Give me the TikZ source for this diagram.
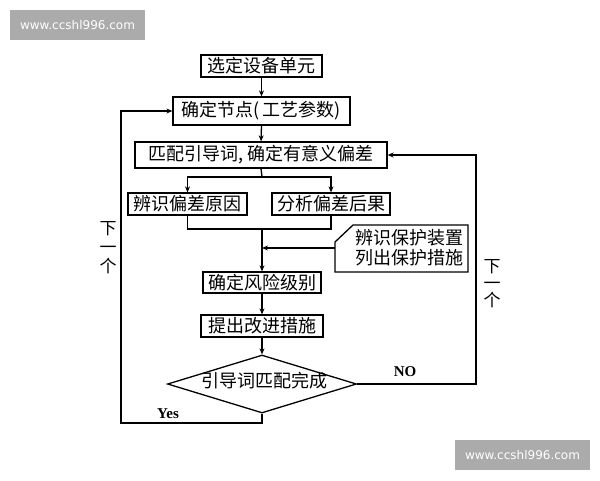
\documentclass[tikz,border=0pt]{standalone}
\usepackage{fontspec}
\newfontfamily\cjk{Noto Sans CJK SC}
\newfontfamily\lat{Liberation Serif}
\newfontfamily\wm{DejaVu Sans}
\usetikzlibrary{arrows.meta,shapes.geometric}
\tikzset{
  cjkfont/.style={font=\cjk\fontsize{18}{20}\selectfont},
  box/.style={draw, line width=1.3pt, inner sep=0pt, cjkfont},
  conn/.style={line width=1.3pt},
  arr/.style={conn, -{Stealth[length=6pt,width=5pt]}},
  lbl/.style={font=\lat\bfseries\fontsize{15}{17}\selectfont},
  vlab/.style={font=\cjk\fontsize{17}{18}\selectfont, align=center},
  wmark/.style={fill=black!33, text=white, inner sep=0pt, font=\wm\fontsize{12}{14}\selectfont}
}
\begin{document}
\begin{tikzpicture}[x=1pt,y=-1pt]
\useasboundingbox (0,0) rectangle (600,480);
% watermarks
\node[wmark, minimum width=135, minimum height=30] (w1) at (77.5,25) {www.ccshl996.com};
\node[wmark, minimum width=135, minimum height=30] (w2) at (522.5,455) {www.ccshl996.com};
% boxes
\node[box, minimum width=121, minimum height=22] (b1) at (261.5,66) {选定设备单元};
\node[box, minimum width=177, minimum height=28] (b2) at (261.5,111) {确定节点(\hspace{2pt}工艺参数\hspace{1pt})};
\node[box, minimum width=252, minimum height=26] (b3) at (261,155) {匹配引导词,\hspace{4pt}确定有意义偏差};
\node[box, minimum width=119, minimum height=22] (b4) at (187.5,204) {辨识偏差原因};
\node[box, minimum width=118, minimum height=22] (b5) at (331,204) {分析偏差后果};
\node[box, minimum width=118, minimum height=21] (b6) at (262,282.5) {确定风险级别};
\node[box, minimum width=122, minimum height=22] (b7) at (262,326) {提出改进措施};
\node[draw, line width=1.3pt, diamond, aspect=3.26, inner sep=0pt, minimum width=189, minimum height=58] (dia) at (262,384) {};
\node[cjkfont] (diat) at (264,381) {引导词匹配完成};
% protection node
\draw[line width=1.3pt] (353,225) -- (468,225) -- (468,272) -- (335,272) -- (335,242) -- cycle;
\node[cjkfont, align=center, inner sep=0pt] (prot) at (409,248) {辨识保护装置\\[0pt]列出保护措施};
\coordinate (pa) at (335,248);
% connectors
\draw[arr] (b1.south) -- (b2.north);
\draw[arr] (b2.south) -- (b3.north);
\coordinate (split) at (262,177);
\draw[conn] (b3.south) -- (split);
\draw[arr] (split) -| (b4.north);
\draw[arr] (split) -| (b5.north);
\coordinate (join) at (262,229);
\draw[conn] (b4.south) |- (join) -| (b5.south);
\draw[arr] (join) -- (b6.north);
\coordinate (pin) at (262,248);
\draw[arr] (pa) -- (pin);
\draw[arr] (b6.south) -- (b7.north);
\draw[arr] (b7.south) -- (dia.north);
\coordinate (rt) at (476,384);
\draw[arr] (dia.east) -- (rt) |- (b3.east);
\coordinate (yb) at (262,423);
\coordinate (yl) at (121,423);
\draw[arr] (dia.south) -- (yb) -- (yl) |- (b2.west);
% labels
\node[lbl] (no) at (405,372) {NO};
\node[lbl] (yes) at (168,414) {Yes};
\node[vlab] (lnext) at (108,248) {下\\[1pt]一\\[1pt]个};
\node[vlab] (rnext) at (492,284) {下\\[-1pt]一\\[-1pt]个};
\end{tikzpicture}
\end{document}
